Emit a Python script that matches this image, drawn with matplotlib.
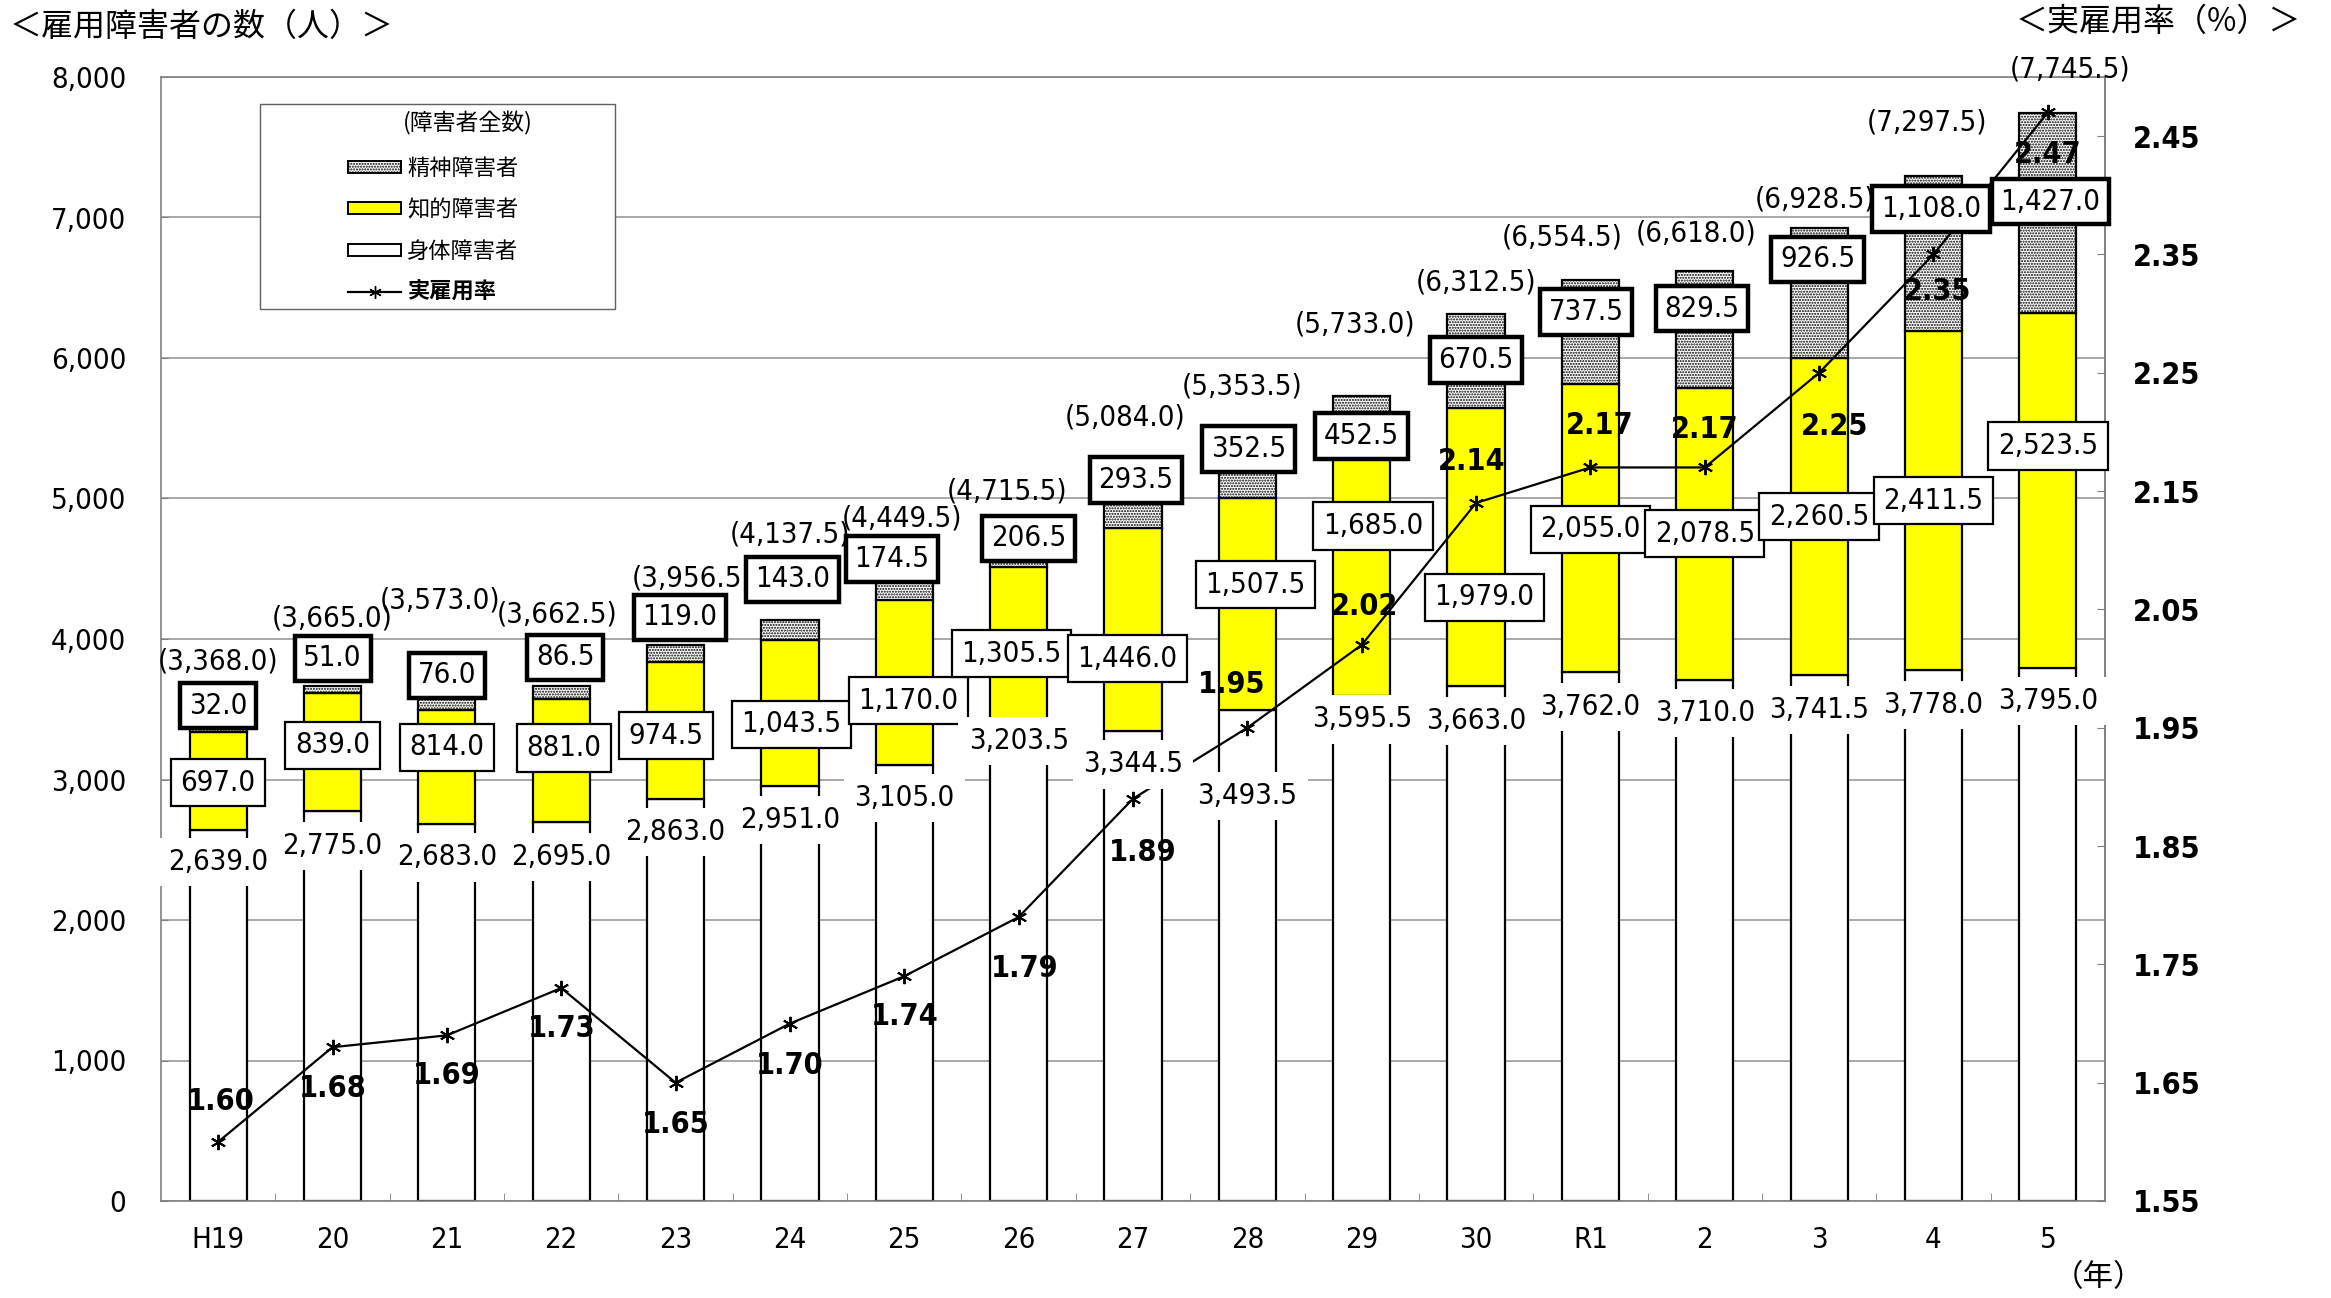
import matplotlib
matplotlib.use('Agg')
import matplotlib.pyplot as plt
from matplotlib import font_manager
from matplotlib.font_manager import FontProperties
from matplotlib.patches import Patch, Rectangle
from matplotlib.lines import Line2D


# data
years = ['H19', '20', '21', '22', '23', '24', '25', '26', '27', '28', '29', '30',
         'R1', '2', '3', '4', '5']
physical = [2639.0, 2775.0, 2683.0, 2695.0, 2863.0, 2951.0, 3105.0, 3203.5, 3344.5,
            3493.5, 3595.5, 3663.0, 3762.0, 3710.0, 3741.5, 3778.0, 3795.0]
intellectual = [697.0, 839.0, 814.0, 881.0, 974.5, 1043.5, 1170.0, 1305.5, 1446.0,
                1507.5, 1685.0, 1979.0, 2055.0, 2078.5, 2260.5, 2411.5, 2523.5]
mental = [32.0, 51.0, 76.0, 86.5, 119.0, 143.0, 174.5, 206.5, 293.5,
          352.5, 452.5, 670.5, 737.5, 829.5, 926.5, 1108.0, 1427.0]
totals = [3368.0, 3665.0, 3573.0, 3662.5, 3956.5, 4137.5, 4449.5, 4715.5, 5084.0,
          5353.5, 5733.0, 6312.5, 6554.5, 6618.0, 6928.5, 7297.5, 7745.5]
rate = [1.60, 1.68, 1.69, 1.73, 1.65, 1.70, 1.74, 1.79, 1.89, 1.95, 2.02, 2.14,
        2.17, 2.17, 2.25, 2.35, 2.47]

# label nudges in points (the original has hand placed labels)
phys_dy = [-23, -25, -24, -25, -24, -24, -24, 7, -24, -62, -17, -25, -25, -24, -25, -25, -24]
intel_dx = [0, 0, 0, 2, -7, 1, 3, -5, -4, 6, 8, 6, 0, 0, 0, 0, 0]
intel_dy = [-1, 5, 14, 9, -4, -8, -13, 4, -21, 14, 37, -36, -1, 0, 0, 0, 32]
ment_dx = [0, 0, 0, 3, 3, 2, -9, 7, 2, 1, 0, 0, -3, -2, -1, -2, 2]
ment_dy = [16, 20, 17, 21, 20, 29, 12, 0, 5, 0, -29, -33, -23, -27, -23, -24, -64]
tot_dx = [0, 0, -5, -3, 12, 0, -2, -8, -6, -4, -5, 0, -20, -6, -3, -5, 16]
tot_dy = [48, 49, 71, 52, 48, 61, 41, 34, 50, 45, 51, 23, 31, 27, 20, 38, 31]
rate_off = [(2, 29), (0, -30), (0, -29), (0, -29), (0, -30), (0, -30), (0, -29), (4, -37),
            (7, -39), (-11, 31), (2, 28), (-3, 30), (7, 30), (0, 27), (11, -39), (3, -27), (0, -30)]


def narrow_fonts():
    """look for a condensed / narrow sans face, the original uses one for numbers"""
    reg, bold = None, None
    for f in font_manager.fontManager.ttflist:
        n = f.name.lower()
        st = str(f.stretch).lower()
        if f.style != 'normal' or 'mono' in n or 'serif' in n and 'sans' not in n:
            continue
        if not ('narrow' in n or 'condensed' in n or 'condensed' in st):
            continue
        w = f.weight if isinstance(f.weight, int) else (700 if 'bold' in str(f.weight) else 400)
        if w == 400 and reg is None:
            reg = f.fname
        elif w == 700 and bold is None:
            bold = f.fname
    return reg, bold


JP = 'Noto Sans CJK JP'
reg_path, bold_path = narrow_fonts()
if reg_path:
    FS, FSB = 21, 22
    num_fp = FontProperties(fname=reg_path, size=FS)
    numb_fp = FontProperties(fname=bold_path, size=FSB) if bold_path else \
        FontProperties(fname=reg_path, size=FSB, weight='bold')
else:
    FS, FSB = 19, 20
    num_fp = FontProperties(family=['Roboto', 'DejaVu Sans'], size=FS)
    numb_fp = FontProperties(family=['Roboto', 'DejaVu Sans'], size=FSB, weight='bold')

plt.rcParams['font.family'] = ['DejaVu Sans', JP]
plt.rcParams['hatch.linewidth'] = 1.0

W, H = 2331, 1298
fig = plt.figure(figsize=(W / 100, H / 100), dpi=100)
ax = fig.add_axes([161 / W, 1 - 1201 / H, (2105 - 161) / W, (1201 - 77) / H])
ax2 = ax.twinx()

x = list(range(len(years)))
bw = 0.5
lw_bar = 1.6
ax.bar(x, physical, bw, color='white', edgecolor='black', linewidth=lw_bar, zorder=2)
ax.bar(x, intellectual, bw, bottom=physical, color='#FFFF00', edgecolor='black',
       linewidth=lw_bar, zorder=2)
base2 = [p + i for p, i in zip(physical, intellectual)]
ax.bar(x, mental, bw, bottom=base2, color='white', edgecolor='black', hatch='......',
       linewidth=lw_bar, zorder=2)

ax.set_xlim(-0.5, len(years) - 0.5)
ax.set_ylim(0, 8000)
ax.set_yticks(range(0, 8001, 1000))
ax.set_yticklabels([f'{v:,}' for v in range(0, 8001, 1000)], fontproperties=num_fp)
ax.set_axisbelow(True)
ax.yaxis.grid(True, color='#9a9a9a', linewidth=1.2)
ax.tick_params(axis='y', direction='in', length=5, color='#808080', pad=25)
ax.set_xticks(x)
ax.set_xticklabels(years, fontproperties=num_fp)
ax.set_xticks([i + 0.5 for i in x[:-1]], minor=True)
ax.tick_params(axis='x', which='major', length=0, pad=18)
ax.tick_params(axis='x', which='minor', direction='in', length=6, color='#808080')
for s in ax.spines.values():
    s.set_color('#808080')
    s.set_linewidth(1.2)

ax2.plot(x, rate, color='black', linewidth=1.6, marker=(6, 2, 0), markersize=11,
         markeredgewidth=1.4, zorder=3)
ax2.set_ylim(1.55, 2.50)
rticks = [1.55 + 0.1 * k for k in range(10)]
ax2.set_yticks(rticks)
ax2.set_yticklabels([f'{v:.2f}' for v in rticks], fontproperties=numb_fp)
ax2.tick_params(axis='y', direction='in', length=6, color='#808080', pad=20)
for k, s in ax2.spines.items():
    s.set_visible(k == 'right')
    s.set_color('#808080')
    s.set_linewidth(1.2)


# bar labels, drawn on ax2 so they sit above the line
def label(i, y, txt, dx, dy, box=None):
    ax2.annotate(txt, xy=(i, y), xycoords=ax.transData, xytext=(dx, dy),
                 textcoords='offset points', ha='center', va='center',
                 fontproperties=num_fp, bbox=box, zorder=6)


for i in x:
    label(i, physical[i], f'{physical[i]:,.1f}', 0, phys_dy[i],
          box=dict(boxstyle='square,pad=0.35', fc='white', ec='none'))
    label(i, physical[i] + intellectual[i] / 2, f'{intellectual[i]:,.1f}',
          intel_dx[i], intel_dy[i],
          box=dict(boxstyle='square,pad=0.33', fc='white', ec='black', lw=1.6))
    label(i, totals[i], f'{mental[i]:,.1f}', ment_dx[i], ment_dy[i],
          box=dict(boxstyle='square,pad=0.3', fc='white', ec='black', lw=3.2))
    label(i, totals[i], f'({totals[i]:,.1f})', tot_dx[i], tot_dy[i])
    ax2.annotate(f'{rate[i]:.2f}', xy=(i, rate[i]), xytext=rate_off[i],
                 textcoords='offset points', ha='center', va='center',
                 fontproperties=numb_fp, zorder=6)

# legend box
ax2.add_patch(Rectangle((260 / W, 1 - 309 / H), 355 / W, 205 / H, transform=fig.transFigure,
                        facecolor='white', edgecolor='#606060', linewidth=1.0,
                        zorder=9, clip_on=False))
ax2.text(468 / W, 1 - 123 / H, '(障害者全数)', transform=fig.transFigure, ha='center',
         va='center', fontsize=16.5, family=JP, zorder=11)
handles = [
    Patch(facecolor='white', edgecolor='black', hatch='......', linewidth=1.4),
    Patch(facecolor='#FFFF00', edgecolor='black', linewidth=1.4),
    Patch(facecolor='white', edgecolor='black', linewidth=1.4),
    Line2D([], [], color='black', linewidth=1.6, marker=(6, 2, 0), markersize=9),
]
leg = ax2.legend(handles, ['精神障害者', '知的障害者', '身体障害者', '実雇用率'],
                 loc='upper left', bbox_to_anchor=(337 / W, 1 - 146 / H),
                 bbox_transform=fig.transFigure, frameon=False, borderpad=0,
                 prop={'family': JP, 'size': 16}, handlelength=2.4, handleheight=0.45,
                 handletextpad=0.25, labelspacing=0.82)
leg.set_zorder(10)
leg.get_texts()[3].set_fontweight('bold')

fig.text(10 / W, 1 - 27 / H, '＜雇用障害者の数（人）＞', fontsize=23, family=JP,
         ha='left', va='center')
fig.text(2301 / W, 1 - 22 / H, '＜実雇用率（%）＞', fontsize=23, family=JP,
         ha='right', va='center')
fig.text(2098 / W, 1 - 1278 / H, '（年）', fontsize=22, family=JP, ha='center', va='center')

fig.savefig('out.png', dpi=100, facecolor='white')
